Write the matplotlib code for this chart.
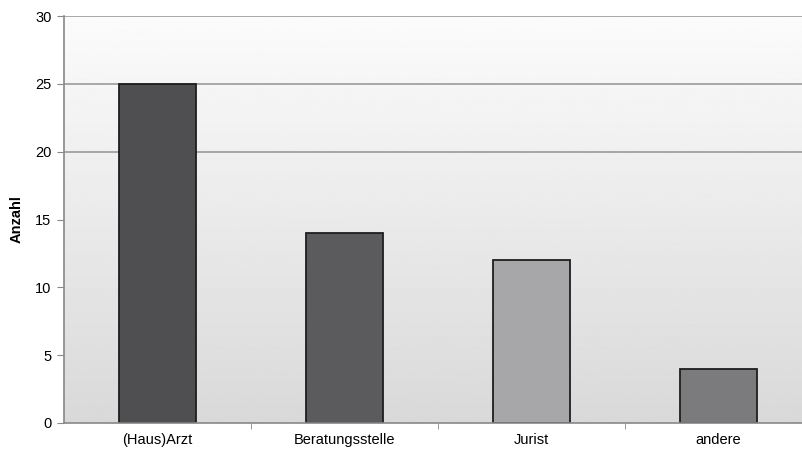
import numpy as np
import matplotlib.pyplot as plt

plt.rcParams['font.family'] = ['Liberation Sans', 'DejaVu Sans']

categories = ['(Haus)Arzt', 'Beratungsstelle', 'Jurist', 'andere']
counts = [25, 14, 12, 4]
bar_colors = ['#4f4f51', '#5b5b5d', '#a7a7a9', '#7b7b7d']
grid_levels = [20, 25, 30]

fig = plt.figure(figsize=(8.03, 4.55), dpi=100)
ax = fig.add_axes([64 / 803, 32 / 455, 748 / 803, 407 / 455])

x = np.arange(len(categories))

# gradient background, light at the top, grey at the bottom
grad = np.linspace(0.985, 0.85, 256).reshape(-1, 1)
ax.imshow(grad, cmap='gray', vmin=0, vmax=1, aspect='auto',
          extent=[-0.5, 3.5, 0, 30], origin='upper', zorder=0)

for g in grid_levels:
    ax.axhline(g, color='#9a9a9a', linewidth=1.2, zorder=1)

ax.bar(x, counts, width=0.41, color=bar_colors, edgecolor='#1e1e1e',
       linewidth=1.3, zorder=2)

ax.set_xlim(-0.5, 3.5)
ax.set_ylim(0, 30)
ax.set_yticks(range(0, 31, 5))
ax.set_xticks(x)
ax.set_xticklabels(categories, fontsize=10.5)
ax.set_xticks(np.arange(0.5, 3.5, 1), minor=True)
ax.tick_params(axis='x', which='major', length=0, pad=7)
ax.tick_params(axis='x', which='minor', length=4, color='#888888')
ax.tick_params(axis='y', length=5, color='#888888', labelsize=10.5, pad=4)
ax.set_ylabel('Anzahl', fontsize=10.5, fontweight='bold', labelpad=8)

for s in ['top', 'right']:
    ax.spines[s].set_visible(False)
for s in ['left', 'bottom']:
    ax.spines[s].set_color('#888888')
    ax.spines[s].set_linewidth(1.2)

plt.savefig('out.png', dpi=100)
